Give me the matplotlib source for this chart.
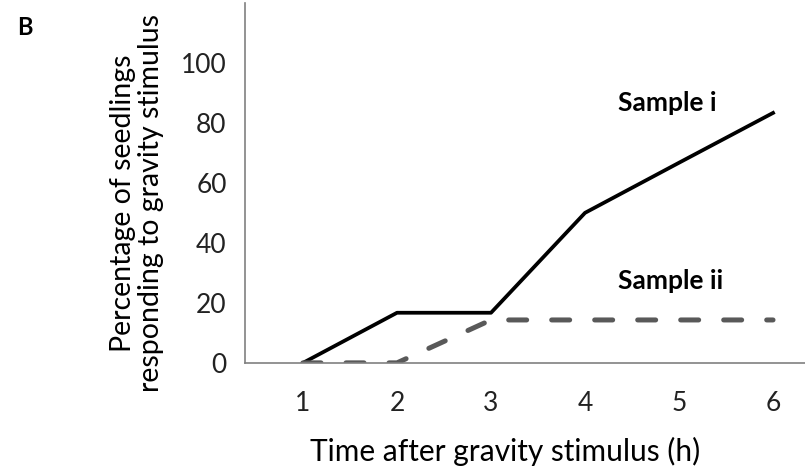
import matplotlib
matplotlib.use("Agg")
import matplotlib.pyplot as plt

hours = [1, 2, 3, 4, 5, 6]
sample_i = [0, 16.7, 16.7, 50, 66.7, 83.3]
sample_ii = [0, 0, 14.3, 14.3, 14.3, 14.3]
y_ticks = [0, 20, 40, 60, 80, 100]

plt.rcParams['font.family'] = ['Lato', 'DejaVu Sans']

fig = plt.figure(figsize=(8.05, 4.67), dpi=100)
ax = fig.add_axes([0.304, 0.223, 0.696, 0.771])

ax.plot(hours, sample_i, color="black", lw=2.7)
ax.plot(hours, sample_ii, color="#595959", lw=3.6, dashes=(3.6, 5.0),
        dash_capstyle="round")

ax.set_xlim(0.38, 6.34)
ax.set_ylim(0, 120)
ax.set_xticks(hours)
ax.set_yticks(y_ticks)
ax.tick_params(length=0, labelsize=19, colors="#222222")
ax.tick_params(axis="y", pad=13)
ax.tick_params(axis="x", pad=20)

for s in ["top", "right"]:
    ax.spines[s].set_visible(False)
for s in ["left", "bottom"]:
    ax.spines[s].set_color("#808080")
    ax.spines[s].set_linewidth(1.2)

ax.text(4.35, 86.6, "Sample i", fontsize=19, fontweight="bold", va="center")
ax.text(4.35, 27.2, "Sample ii", fontsize=19, fontweight="bold", va="center")

fig.text(0.627, 0.003, "Time after gravity stimulus (h)", fontsize=21.5,
         ha="center", va="bottom")
fig.text(0.17, 0.565, "Percentage of seedlings\nresponding to gravity stimulus",
         fontsize=20.5, rotation=90, ha="center", va="center", linespacing=1.12)
fig.text(0.021, 0.942, "B", fontsize=17, fontweight="bold", va="center")

fig.savefig("out.png", dpi=100)
